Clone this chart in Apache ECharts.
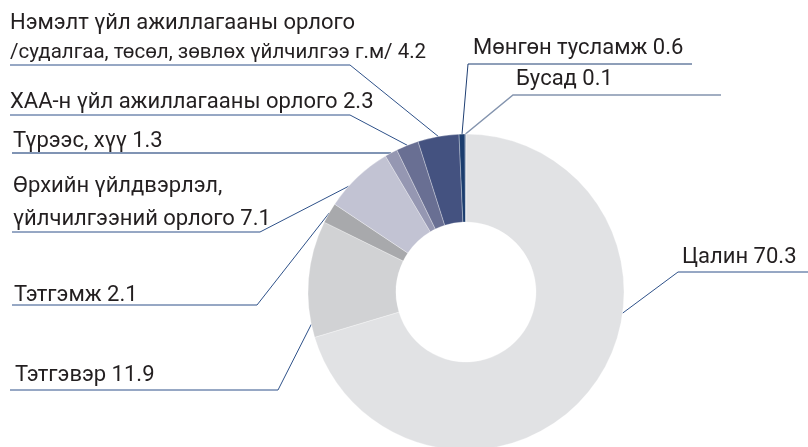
<!DOCTYPE html>
<html>
<head>
<meta charset="utf-8">
<script src="https://cdn.jsdelivr.net/npm/echarts@6/dist/echarts.min.js"></script>
<style>
  html, body { margin: 0; padding: 0; background: #fff; }
  #chart { width: 808px; height: 447px; }
</style>
</head>
<body>
<div id="chart"></div>
<script>
// income structure, % (clockwise from 12 o'clock)
const names = [
  'Цалин',
  'Тэтгэвэр',
  'Тэтгэмж',
  'Өрхийн үйлдвэрлэл,\nүйлчилгээний орлого',
  'Түрээс, хүү',
  'ХАА-н үйл ажиллагааны орлого',
  'Нэмэлт үйл ажиллагааны орлого\n/судалгаа, төсөл, зөвлөх үйлчилгээ г.м/',
  'Мөнгөн тусламж',
  'Бусад'
]
const values = [70.3, 11.9, 2.1, 7.1, 1.3, 2.3, 4.2, 0.6, 0.1]

const sliceColors = ['#e1e2e4', '#d1d2d4', '#a8a9ac', '#c2c3d3', '#9597b2', '#696f93', '#445280', '#1b3d6e', '#7e8fa8']
const lineColors = ['#2e5189', '#2e5189', '#2e5189', '#2e5189', '#8094b4', '#2e5189', '#2e5189', '#1f3f73', '#8494ae']
const lineWidths = [1, 1, 1, 1, 2, 1, 1, 1, 1.5]

const center = [466, 292]
const radius = [70, 158]

// label placement: [text x, text bottom y, underline y, underline from x, underline to x, elbow side]
const labelSpots = [
  [682, 270.5, 272, 678, 808, 'l'],
  [15, 388.5, 390, 10, 278, 'r'],
  [14, 308, 305, 12, 257, 'r'],
  [13, 236, 232, 12, 260, 'r'],
  [13, 154.5, 153, 12, 390, 'r'],
  [10, 115.5, 115, 10, 350, 'r'],
  [10, 64, 65, 10, 350, 'r'],
  [473, 61.5, 64, 468, 692, 'l'],
  [516, 92, 95, 513, 721, 'l']
]
// where the leader line touches the ring (deg clockwise from top), null = slice middle
const anchorAngles = [97.7, 258.2, null, 312, null, null, null, null, null]

const total = values.reduce((a, b) => a + b, 0)
let acc = 0
const midAngles = values.map(v => {
  const a = (acc + v / 2) / total * 360
  acc += v
  return a
})

const chart = echarts.init(document.getElementById('chart'))

chart.setOption({
  animation: false,
  series: [{
    type: 'pie',
    center: center,
    radius: radius,
    startAngle: 90,
    clockwise: true,
    avoidLabelOverlap: false,
    itemStyle: { borderColor: 'rgba(255,255,255,0.6)', borderWidth: 0.5 },
    label: {
      show: true,
      position: 'outer',
      color: '#231f20',
      fontFamily: 'Roboto',
      fontSize: 22,
      lineHeight: 26,
      formatter: p => {
        if (p.dataIndex === 6) {
          const parts = p.name.split('\n')
          return '{a|' + parts[0] + '}\n{b|' + parts[1] + ' ' + p.value + '}'
        }
        return p.name + ' ' + p.value
      },
      rich: {
        a: { fontSize: 22, lineHeight: 37, color: '#231f20', fontFamily: 'Roboto' },
        b: { fontSize: 20.5, lineHeight: 22, color: '#231f20', fontFamily: 'Roboto' }
      }
    },
    labelLine: { show: true, length: 10, length2: 10 },
    emphasis: { disabled: true },
    labelLayout: params => {
      const i = params.dataIndex
      const s = labelSpots[i]
      const ang = (anchorAngles[i] != null ? anchorAngles[i] : midAngles[i]) * Math.PI / 180
      const ax = center[0] + radius[1] * Math.sin(ang)
      const ay = center[1] - radius[1] * Math.cos(ang)
      const elbow = s[5] === 'l' ? [s[3], s[2]] : [s[4], s[2]]
      const end = s[5] === 'l' ? [s[4], s[2]] : [s[3], s[2]]
      return {
        x: s[0],
        y: s[1],
        align: 'left',
        verticalAlign: 'bottom',
        labelLinePoints: [[ax, ay], elbow, end]
      }
    },
    data: names.map((n, i) => ({
      name: n,
      value: values[i],
      itemStyle: { color: sliceColors[i] },
      label: i === 3 ? { lineHeight: 33 } : {},
      labelLine: { lineStyle: { color: lineColors[i], width: lineWidths[i] } }
    }))
  }]
})
</script>
</body>
</html>
